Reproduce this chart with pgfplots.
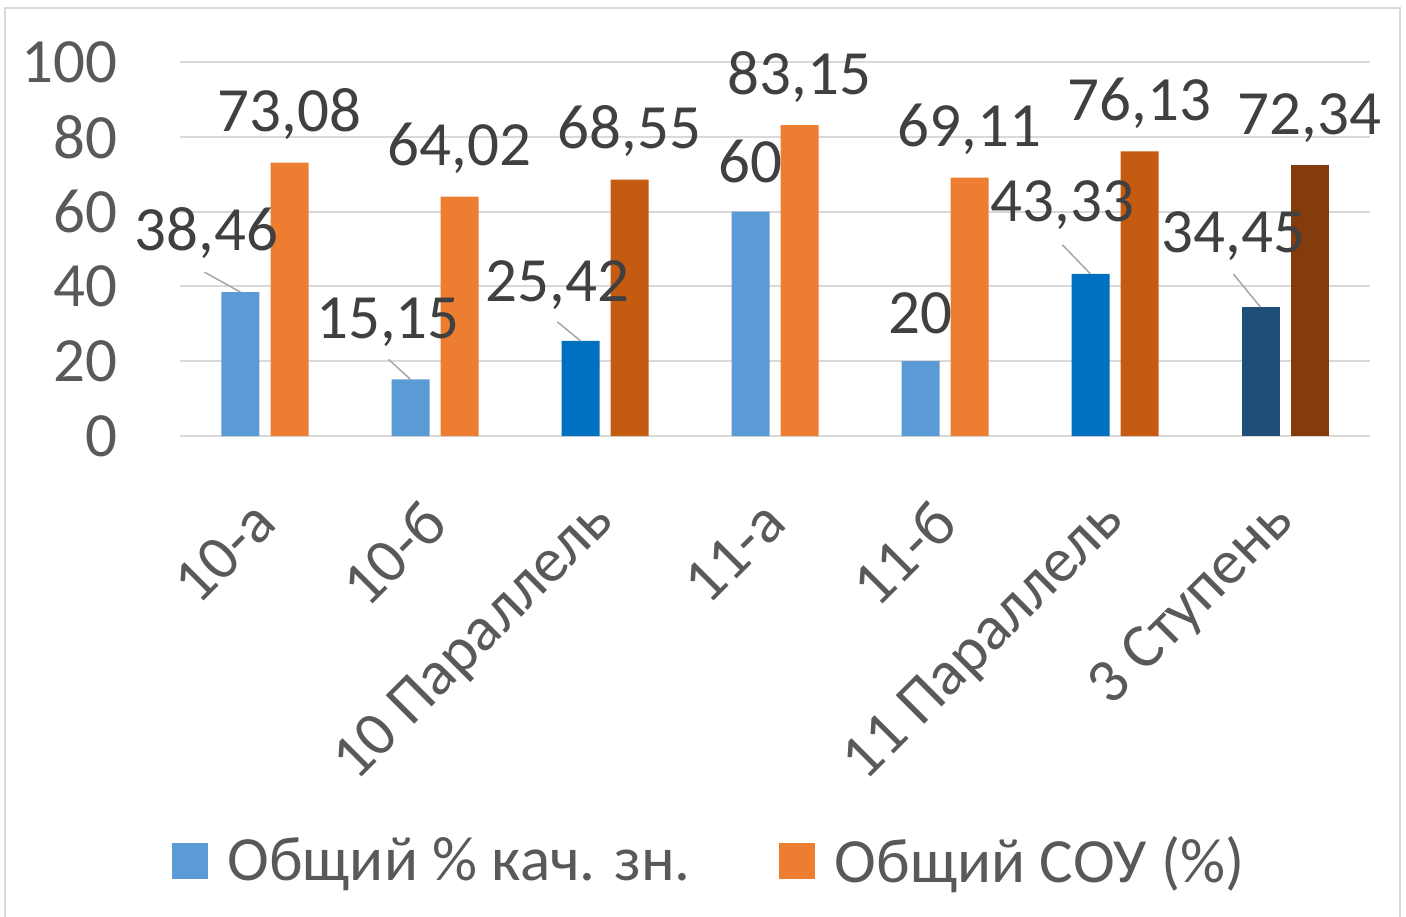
\documentclass[border=0pt]{standalone}
\usepackage{fontspec}
\setmainfont{Carlito}
\usepackage{pgfplots}
\pgfplotsset{compat=1.18}
\definecolor{lblue}{HTML}{5B9BD5}
\definecolor{mblue}{HTML}{0070C0}
\definecolor{dblue}{HTML}{1F4E79}
\definecolor{lorange}{HTML}{ED7D31}
\definecolor{morange}{HTML}{C55A11}
\definecolor{dorange}{HTML}{843C0C}
\definecolor{ticktxt}{HTML}{595959}
\definecolor{labtxt}{HTML}{404040}
\definecolor{gridc}{HTML}{D9D9D9}
\definecolor{leader}{HTML}{A6A6A6}

\newcommand{\chartfont}{\fontsize{31.5}{37}\selectfont}

\pgfplotsset{
  lab/.style={
    nodes near coords, point meta=explicit symbolic,
    visualization depends on=value \thisrow{dx}\as\dx,
    visualization depends on=value \thisrow{dy}\as\dy,
    every node near coord/.append style={anchor=base, inner sep=0pt,
      xshift=#1, xshift=\dx pt, yshift=\dy pt, font=\chartfont, text=labtxt},
  },
  blue bar/.style={ybar, bar width=19pt, bar shift=-12.25pt, draw=none, fill=#1, lab=-12.25pt},
  orange bar/.style={ybar, bar width=19pt, bar shift=12.25pt, draw=none, fill=#1, lab=12.25pt},
}

\begin{document}
\begin{tikzpicture}
\useasboundingbox (0pt,0pt) rectangle (703pt,458pt);
\draw[gridc, line width=1.2pt] (2.5pt,-5pt) -- (2.5pt,454pt) -- (700pt,454pt) -- (700pt,-5pt);
\begin{axis}[
  at={(90pt,240pt)}, anchor=south west,
  scale only axis, width=595pt, height=187pt,
  xmin=-0.5, xmax=6.5, ymin=0, ymax=100,
  clip=false,
  axis line style={draw=none},
  major tick length=0pt,
  ytick={0,20,...,100},
  ymajorgrids, grid style={gridc, line width=1pt},
  xtick={0,...,6},
  xticklabels={10-а,10-б,10 Параллель,11-а,11-б,11 Параллель,3 Ступень},
  ticklabel style={font=\chartfont, text=ticktxt, inner sep=0pt},
  /pgf/number format/assume math mode=true,
  xticklabel style={rotate=45, anchor=east},
  xticklabel shift=38pt,
  yticklabel style={anchor=east},
  yticklabel shift=31pt,
  legend columns=2,
  legend style={at={(0.4454,-1.136)}, anchor=center, draw=none, fill=none,
    font=\chartfont, text=ticktxt, inner sep=0pt,
    /tikz/every odd column/.append style={column sep=8pt},
    /tikz/every even column/.append style={column sep=42pt}},
  legend image code/.code={\fill[#1] (0pt,-9pt) rectangle (18pt,9pt);},
]
% Общий % кач. зн.
\addplot[blue bar=lblue] table[x=x, y=y, meta=lab] {
x y lab dx dy
0 38.46 38,46 -17 21
1 15.15 15,15 -11.25 20.5
3 60 60 0 14.5
4 20 20 0 14
};
\addlegendentry{Общий \% кач. зн.}
% Общий СОУ (%)
\addplot[orange bar=lorange] table[x=x, y=y, meta=lab] {
x y lab dx dy
0 73.08 73,08 0 15.5
1 64.02 64,02 0 15.5
3 83.15 83,15 0 15.5
4 69.11 69,11 0 15.5
};
\addlegendentry{Общий СОУ (\%)}
\addplot[blue bar=mblue, forget plot] table[x=x, y=y, meta=lab] {
x y lab dx dy
2 25.42 25,42 -11.5 19.5
5 43.33 43,33 -14 26
};
\addplot[orange bar=morange, forget plot] table[x=x, y=y, meta=lab] {
x y lab dx dy
2 68.55 68,55 0 15.5
5 76.13 76,13 0 15.5
};
\addplot[blue bar=dblue, forget plot] table[x=x, y=y, meta=lab] {
x y lab dx dy
6 34.45 34,45 -13.5 27.5
};
\addplot[orange bar=dorange, forget plot] table[x=x, y=y, meta=lab] {
x y lab dx dy
6 72.34 72,34 0 15.5
};
% leader lines
\draw[leader, line width=0.75pt] ([xshift=-12.25pt]axis cs:0,38.46) -- ([xshift=-30.25pt,yshift=10pt]axis cs:0,38.46);
\draw[leader, line width=0.75pt] ([xshift=-12.25pt]axis cs:1,15.15) -- ([xshift=-23.25pt,yshift=10pt]axis cs:1,15.15);
\draw[leader, line width=0.75pt] ([xshift=-12.25pt]axis cs:2,25.42) -- ([xshift=-23.75pt,yshift=9.5pt]axis cs:2,25.42);
\draw[leader, line width=0.75pt] ([xshift=-12.25pt]axis cs:5,43.33) -- ([xshift=-26.25pt,yshift=14.5pt]axis cs:5,43.33);
\draw[leader, line width=0.75pt] ([xshift=-12.25pt]axis cs:6,34.45) -- ([xshift=-25.75pt,yshift=16.5pt]axis cs:6,34.45);
\end{axis}
\end{tikzpicture}
\end{document}
